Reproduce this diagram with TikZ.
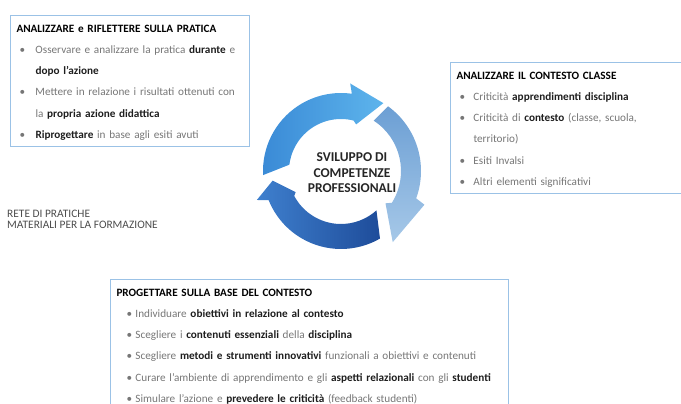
\documentclass[tikz,border=0pt]{standalone}
\usepackage{fontspec}
\setmainfont{Carlito}

\definecolor{cornice}{HTML}{9BC2E6}
\definecolor{grigio}{HTML}{767676}
\definecolor{scuro}{HTML}{1E1E1E}
\definecolor{blu1a}{HTML}{3A8AD6}
\definecolor{blu1b}{HTML}{5DB4EC}
\definecolor{blu2a}{HTML}{6C9FD4}
\definecolor{blu2b}{HTML}{A6C8E8}
\definecolor{blu3a}{HTML}{1E4C9A}
\definecolor{blu3b}{HTML}{3F80CE}

\renewcommand{\arraystretch}{1.77}
\newcommand{\pto}[1][3pt]{\hspace*{#1}\textbullet}
\newcommand{\gr}[1]{{\color{scuro}\textbf{#1}}}
\newcommand{\titolo}[1]{{\color{black}\textbf{#1}}}

\begin{document}
\begin{tikzpicture}[x=1pt, y=-1pt,
   box/.style={draw=cornice, line width=1pt, anchor=north west, inner xsep=6pt,
      inner ysep=0pt, minimum height=131pt, align=left, text=grigio,
      font=\fontsize{11.2}{12}\selectfont}]
   \path[use as bounding box, clip] (0,0) rectangle (681,404);

   % riquadri
   \node[box, text width=227pt] (riflettere) at (10,15) {
      \begin{tabular}{@{}p{19pt}@{}l@{}}
      \multicolumn{2}{@{}l@{}}{\titolo{ANALIZZARE e RIFLETTERE SULLA PRATICA}} \\
      \pto & Osservare e analizzare la pratica \gr{durante} e \\
       & \gr{dopo l'azione} \\
      \pto & Mettere in relazione i risultati ottenuti con \\
       & la \gr{propria azione didattica} \\
      \pto & \gr{Riprogettare} in base agli esiti avuti \\
      \end{tabular}
   };
   \node[box, text width=238pt] (contesto) at (450,62) {
      \begin{tabular}{@{}p{17pt}@{}l@{}}
      \multicolumn{2}{@{}l@{}}{\titolo{ANALIZZARE IL CONTESTO CLASSE}} \\
      \pto & Criticità \gr{apprendimenti disciplina} \\
      \pto & Criticità di \gr{contesto} (classe, scuola, \\
       & territorio) \\
      \pto & Esiti Invalsi \\
      \pto & Altri elementi significativi \\
      \end{tabular}
   };
   \node[box, text width=386pt] (progettare) at (110,279) {
      \begin{tabular}{@{}p{19pt}@{}l@{}}
      \multicolumn{2}{@{}l@{}}{\titolo{PROGETTARE SULLA BASE DEL CONTESTO}} \\
      \pto[10pt] & Individuare \gr{obiettivi in relazione al contesto} \\
      \pto[10pt] & Scegliere i \gr{contenuti essenziali} della \gr{disciplina} \\
      \pto[10pt] & Scegliere \gr{metodi e strumenti innovativi} funzionali a obiettivi e contenuti \\
      \pto[10pt] & Curare l'ambiente di apprendimento e gli \gr{aspetti relazionali} con gli \gr{studenti} \\
      \pto[10pt] & Simulare l'azione e \gr{prevedere le criticità} (feedback studenti) \\
      \end{tabular}
   };

   \node[anchor=west, align=left, inner sep=0pt, text=black!70,
      font=\fontsize{11.4}{11.5}\selectfont] (rete) at (7,219.5)
      {RETE DI PRATICHE\\MATERIALI PER LA FORMAZIONE};

   % ciclo
   \begin{scope}[shift={(341,171)}, yscale=-1]
      \shade[left color=blu1a, right color=blu1b]
         (183:78) arc[start angle=183, end angle=82, radius=78] -- (84:88) -- (58:80)
         -- (72:49) -- (76:52) arc[start angle=76, end angle=173, radius=52] -- cycle;
      \shade[top color=blu2a, bottom color=blu2b]
         (54:80) arc[start angle=54, end angle=-20, radius=80] -- (-22:90) -- (-54:88)
         -- (-36:55) -- (-32:60) arc[start angle=-32, end angle=57, radius=60] -- cycle;
      \shade[left color=blu3b, right color=blu3a]
         (-60:78) arc[start angle=-60, end angle=-158, radius=78] -- (-161:89) -- (-172:69)
         -- (-155:50) -- (-152:53) arc[start angle=-152, end angle=-48, radius=53] -- cycle;
   \end{scope}
   \node[align=center, text=black!85, font=\fontsize{13.5}{15.5}\selectfont\bfseries]
      (ciclo) at (352,173) {SVILUPPO DI\\COMPETENZE\\PROFESSIONALI};
\end{tikzpicture}
\end{document}
